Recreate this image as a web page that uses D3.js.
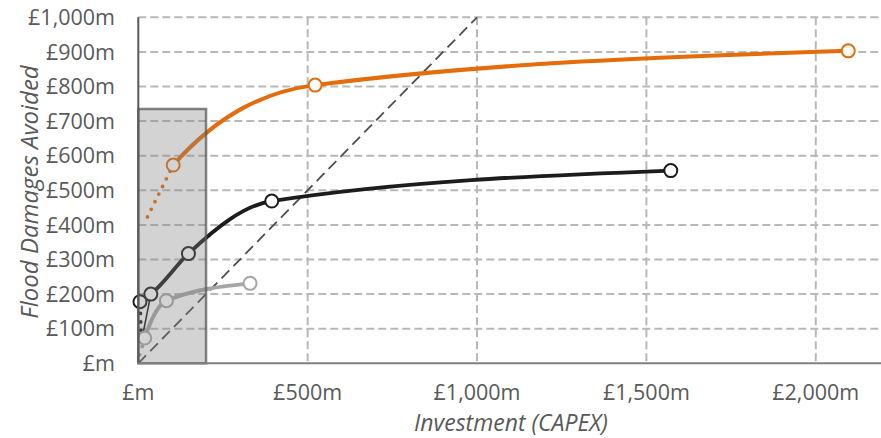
<!DOCTYPE html>
<html>
<head>
<meta charset="utf-8">
<script src="https://cdn.jsdelivr.net/npm/d3@7"></script>
<style>
  html, body { margin: 0; padding: 0; background: #ffffff; }
  svg { display: block; }
  text { font-family: "Open Sans", "DejaVu Sans", sans-serif; fill: #595959; }
</style>
</head>
<body>
<svg id="chart" width="881" height="438"></svg>
<script>
// ---- data ----
const yTicks = [0, 100, 200, 300, 400, 500, 600, 700, 800, 900, 1000];
const xTicks = [0, 500, 1000, 1500, 2000];

const orangeX = [103, 522, 2096];
const orangeY = [573, 804, 903];
const orangeDottedX = [27, 103];
const orangeDottedY = [423, 573];

const blackX = [5, 37, 148, 394, 1572];
const blackY = [178, 200, 317, 469, 557];
const blackDottedX = [8, 5];
const blackDottedY = [95, 178];
const blackThinX = [15, 37];
const blackThinY = [91, 200];

const greyX = [19, 83, 330];
const greyY = [73, 181, 231];
const greyDottedX = [4, 19];
const greyDottedY = [25, 73];

const parityX = [0, 1000];
const parityY = [0, 1000];

const boxX = [0, 200];
const boxY = [0, 735];

const xTitle = "Investment (CAPEX)";
const yTitle = "Flood Damages Avoided";

// ---- layout ----
const svg = d3.select("#chart");
const pLeft = 138.3, pTop = 17.3, pBottom = 363.3, pRight = 883.5;
const x = d3.scaleLinear().domain([0, 2200]).range([pLeft, pRight]);
const y = d3.scaleLinear().domain([0, 1000]).range([pBottom, pTop]);

const fmt = v => v === 0 ? "£m" : "£" + d3.format(",")(v) + "m";
const zip = (a, b) => a.map((v, i) => [v, b[i]]);

// gridlines
const grid = svg.append("g");
grid.selectAll("line.h").data(yTicks.filter(d => d > 0)).enter().append("line")
  .attr("x1", pLeft).attr("x2", 881)
  .attr("y1", d => y(d)).attr("y2", d => y(d))
  .attr("stroke", "#b8b8b8").attr("stroke-width", 2)
  .attr("stroke-dasharray", "8,4");
grid.selectAll("line.v").data(xTicks.filter(d => d > 0)).enter().append("line")
  .attr("x1", d => x(d)).attr("x2", d => x(d))
  .attr("y1", pTop).attr("y2", pBottom)
  .attr("stroke", "#b8b8b8").attr("stroke-width", 2)
  .attr("stroke-dasharray", "8,4");

// parity line
const lin = d3.line().x(d => x(d[0])).y(d => y(d[1]));
svg.append("path").datum(zip(parityX, parityY)).attr("d", lin)
  .attr("fill", "none").attr("stroke", "#4d4d4d").attr("stroke-width", 1.8)
  .attr("stroke-dasharray", "11,6");

// clip paths for solid smoothed lines (starting at first marker)
const defs = svg.append("defs");
function clipFrom(id, xStart) {
  defs.append("clipPath").attr("id", id).append("rect")
    .attr("x", x(xStart)).attr("y", 0).attr("width", 900).attr("height", 438);
}
clipFrom("clipO", orangeX[0]);
clipFrom("clipG", greyX[0]);

const smooth = d3.line().x(d => x(d[0])).y(d => y(d[1])).curve(d3.curveMonotoneX);

function series(xs, ys, dx, dy, color, width, clipId) {
  const g = svg.append("g");
  g.append("path").datum(zip(dx, dy)).attr("d", lin)
    .attr("fill", "none").attr("stroke", color).attr("stroke-width", 3.8)
    .attr("stroke-linecap", "round").attr("stroke-dasharray", "0,8.5");
  const pts = clipId ? [[dx[0], dy[0]]].concat(zip(xs, ys)) : zip(xs, ys);
  const p = g.append("path").datum(pts).attr("d", smooth)
    .attr("fill", "none").attr("stroke", color).attr("stroke-width", width)
    .attr("stroke-linecap", "round");
  if (clipId) p.attr("clip-path", "url(#" + clipId + ")");
  return g;
}

series(greyX, greyY, greyDottedX, greyDottedY, "#a6a6a6", 4, "clipG");
series(blackX, blackY, blackDottedX, blackDottedY, "#1c1c1c", 3.8, null);
svg.append("path").datum(zip(blackThinX, blackThinY)).attr("d", lin)
  .attr("fill", "none").attr("stroke", "#1c1c1c").attr("stroke-width", 1.6);
series(orangeX, orangeY, orangeDottedX, orangeDottedY, "#e46c0a", 4, "clipO");

// markers
function markers(xs, ys, color) {
  svg.append("g").selectAll("circle").data(zip(xs, ys)).enter().append("circle")
    .attr("cx", d => x(d[0])).attr("cy", d => y(d[1])).attr("r", 6.5)
    .attr("fill", "#ffffff").attr("stroke", color).attr("stroke-width", 2);
}
markers(greyX, greyY, "#a6a6a6");
markers(blackX, blackY, "#1c1c1c");
markers(orangeX, orangeY, "#e46c0a");

// shaded box overlay
svg.append("rect")
  .attr("x", x(boxX[0])).attr("y", y(boxY[1]))
  .attr("width", x(boxX[1]) - x(boxX[0])).attr("height", y(boxY[0]) - y(boxY[1]))
  .attr("fill", "#808080").attr("fill-opacity", 0.35)
  .attr("stroke", "#5a5a5a").attr("stroke-opacity", 0.75).attr("stroke-width", 2.5);

// axes lines
svg.append("line").attr("x1", pLeft).attr("x2", pLeft).attr("y1", pTop).attr("y2", pBottom)
  .attr("stroke", "#595959").attr("stroke-width", 2);
svg.append("line").attr("x1", pLeft).attr("x2", 881).attr("y1", pBottom).attr("y2", pBottom)
  .attr("stroke", "#808080").attr("stroke-width", 2);

// tick labels
svg.append("g").selectAll("text").data(yTicks).enter().append("text")
  .attr("x", 115).attr("y", d => y(d)).attr("dy", "0.36em")
  .attr("text-anchor", "end").attr("font-size", 21.5).text(fmt);
svg.append("g").selectAll("text").data(xTicks).enter().append("text")
  .attr("x", d => x(d)).attr("y", 400)
  .attr("text-anchor", "middle").attr("font-size", 21.5).text(fmt);

// axis titles
svg.append("text").attr("x", 511).attr("y", 431)
  .attr("text-anchor", "middle").attr("font-size", 23).attr("font-style", "italic")
  .text(xTitle);
svg.append("text").attr("transform", "translate(38,192) rotate(-90)")
  .attr("text-anchor", "middle").attr("font-size", 24).attr("font-style", "italic")
  .text(yTitle);
</script>
</body>
</html>
